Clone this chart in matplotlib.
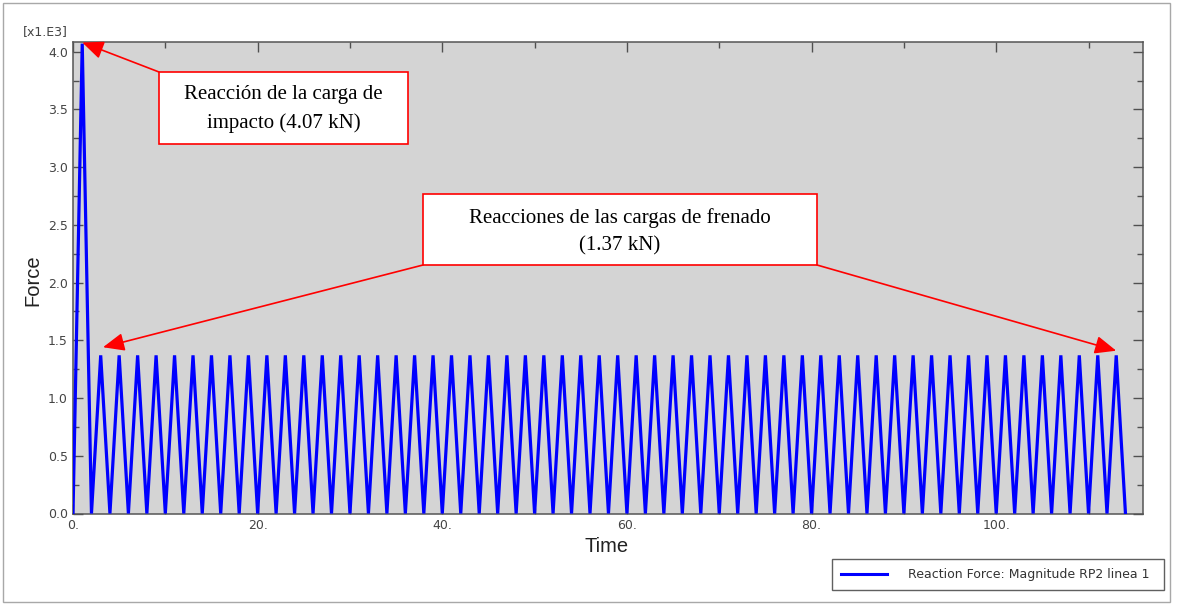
import matplotlib
matplotlib.use("Agg")
import matplotlib.pyplot as plt
from matplotlib.patches import Rectangle
from matplotlib.lines import Line2D
from matplotlib.ticker import MultipleLocator, FuncFormatter

# Reaction force history at reference point RP2 (force in units of 1e3)
time = [
    0, 1, 2, 3, 4, 5, 6, 7, 8, 9, 10, 11, 12, 13, 14, 15, 16, 17, 18, 19,
    20, 21, 22, 23, 24, 25, 26, 27, 28, 29, 30, 31, 32, 33, 34, 35, 36, 37, 38, 39,
    40, 41, 42, 43, 44, 45, 46, 47, 48, 49, 50, 51, 52, 53, 54, 55, 56, 57, 58, 59,
    60, 61, 62, 63, 64, 65, 66, 67, 68, 69, 70, 71, 72, 73, 74, 75, 76, 77, 78, 79,
    80, 81, 82, 83, 84, 85, 86, 87, 88, 89, 90, 91, 92, 93, 94, 95, 96, 97, 98, 99,
    100, 101, 102, 103, 104, 105, 106, 107, 108, 109, 110, 111, 112, 113, 114,
]
force = [
    0, 4.07, 0, 1.37, 0, 1.37, 0, 1.37, 0, 1.37, 0, 1.37, 0, 1.37, 0, 1.37, 0, 1.37, 0, 1.37,
    0, 1.37, 0, 1.37, 0, 1.37, 0, 1.37, 0, 1.37, 0, 1.37, 0, 1.37, 0, 1.37, 0, 1.37, 0, 1.37,
    0, 1.37, 0, 1.37, 0, 1.37, 0, 1.37, 0, 1.37, 0, 1.37, 0, 1.37, 0, 1.37, 0, 1.37, 0, 1.37,
    0, 1.37, 0, 1.37, 0, 1.37, 0, 1.37, 0, 1.37, 0, 1.37, 0, 1.37, 0, 1.37, 0, 1.37, 0, 1.37,
    0, 1.37, 0, 1.37, 0, 1.37, 0, 1.37, 0, 1.37, 0, 1.37, 0, 1.37, 0, 1.37, 0, 1.37, 0, 1.37,
    0, 1.37, 0, 1.37, 0, 1.37, 0, 1.37, 0, 1.37, 0, 1.37, 0, 1.37, 0,
]

series_label = "Reaction Force: Magnitude RP2 linea 1"
impact_time, impact_force = 1, 4.07
braking_first_time, braking_last_time, braking_force = 3, 113, 1.37

W, H = 1177, 604
fig = plt.figure(figsize=(W / 100, H / 100), dpi=100)
fig.patch.set_facecolor("white")


def fx(x):
    return x / W


def fy(y):
    return 1 - y / H


ax = fig.add_axes([fx(73), fy(513.5), (1143 - 73) / W, (513.5 - 42) / H])
ax.set_facecolor("#d4d4d4")
ax.plot(time, force, color="#0000ff", lw=2.3, solid_joinstyle="miter", zorder=3)

ax.set_xlim(0, 115.9)
ax.set_ylim(0, 4.084)

ax.xaxis.set_major_locator(MultipleLocator(20))
ax.xaxis.set_minor_locator(MultipleLocator(10))
ax.yaxis.set_major_locator(MultipleLocator(0.5))
ax.yaxis.set_minor_locator(MultipleLocator(0.25))
ax.xaxis.set_major_formatter(FuncFormatter(lambda v, p: f"{v:.0f}."))
ax.yaxis.set_major_formatter(FuncFormatter(lambda v, p: f"{v:.1f}"))

ax.tick_params(which="both", direction="in", top=True, right=True,
               color="#505050", width=1.0)
ax.tick_params(which="major", length=7)
ax.tick_params(which="minor", length=4)
ax.tick_params(axis="y", labelsize=9, labelcolor="#444444", pad=3.6)
ax.tick_params(axis="x", labelsize=9, labelcolor="#444444", pad=4.0)
for s in ax.spines.values():
    s.set_color("#555555")
    s.set_linewidth(1.1)

fig.text(fx(45), fy(32), "[x1.E3]", fontsize=9, color="#444444",
         ha="center", va="center", family="DejaVu Sans")
fig.text(fx(33), fy(280), "Force", fontsize=14.5, color="#222222", rotation=90,
         ha="center", va="center", family="Liberation Sans")
fig.text(fx(607), fy(547), "Time", fontsize=14.5, color="#222222",
         ha="center", va="center", family="Liberation Sans")

# Annotation boxes
serif = "Liberation Serif"
box1 = (159, 72, 408, 144)
box2 = (423, 194, 817, 265)
for (x0, y0, x1, y1) in (box1, box2):
    fig.patches.append(Rectangle((fx(x0), fy(y1)), fx(x1 - x0), (y1 - y0) / H,
                                 transform=fig.transFigure, facecolor="white",
                                 edgecolor="#ff0000", lw=1.2, zorder=5))

fig.text(fx(283.5), fy(95), "Reacción de la carga de", fontsize=15,
         family=serif, ha="center", va="center", zorder=6)
fig.text(fx(283.5), fy(123), f"impacto ({impact_force:.2f} kN)", fontsize=15,
         family=serif, ha="center", va="center", zorder=6)
fig.text(fx(620), fy(218), "Reacciones de las cargas de frenado", fontsize=15,
         family=serif, ha="center", va="center", zorder=6)
fig.text(fx(620), fy(246), f"({braking_force:.2f} kN)", fontsize=15,
         family=serif, ha="center", va="center", zorder=6)

arrow_kw = dict(arrowstyle="-|>,head_length=13,head_width=5.5", color="#ff0000",
                lw=1.2, shrinkA=0, shrinkB=0, mutation_scale=1)
ax.annotate("", xy=(impact_time, impact_force + 0.01), xycoords="data",
            xytext=(fx(box1[0]), fy(box1[1])), textcoords="figure fraction",
            arrowprops=arrow_kw, zorder=4, annotation_clip=False)
ax.annotate("", xy=(braking_first_time + 0.25, braking_force + 0.07), xycoords="data",
            xytext=(fx(box2[0]), fy(box2[3])), textcoords="figure fraction",
            arrowprops=arrow_kw, zorder=4, annotation_clip=False)
ax.annotate("", xy=(braking_last_time, braking_force + 0.04), xycoords="data",
            xytext=(fx(box2[2]), fy(box2[3])), textcoords="figure fraction",
            arrowprops=arrow_kw, zorder=4, annotation_clip=False)

# Legend panel
fig.patches.append(Rectangle((fx(832), fy(590)), fx(1164 - 832), (590 - 559) / H,
                             transform=fig.transFigure, facecolor="white",
                             edgecolor="#606060", lw=1.0))
fig.lines.append(Line2D([fx(841), fx(887)], [fy(574), fy(574)],
                        transform=fig.transFigure, color="#0000ff", lw=2.2))
fig.text(fx(908), fy(574.5), series_label, fontsize=9, color="#333333",
         ha="left", va="center", family="DejaVu Sans")

# Outer frame
fig.patches.append(Rectangle((fx(3), fy(602)), fx(1170 - 3), (602 - 3) / H,
                             transform=fig.transFigure, facecolor="none",
                             edgecolor="#a8a8a8", lw=1.0))

fig.savefig("out.png", dpi=100)
